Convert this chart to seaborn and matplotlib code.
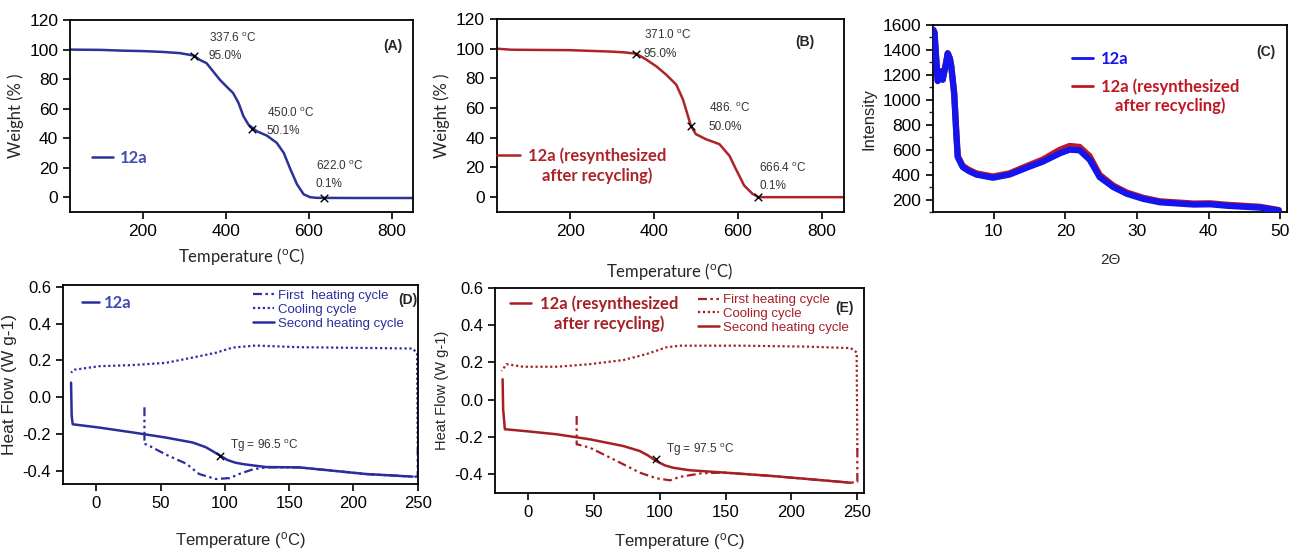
import matplotlib
matplotlib.use("Agg")
import matplotlib.pyplot as plt
import pandas as pd
import seaborn as sns

sns.set_style("ticks")
plt.rcParams['font.family'] = ['Liberation Sans', 'DejaVu Sans']
plt.rcParams['mathtext.default'] = 'regular'

BLUE_A = "#2b3399"
RED_B = "#ad2328"
BLUE_C = "#1414ee"
RED_C = "#c01822"
BLUE_D = "#2a2e9c"
RED_E = "#a51f25"

# ---- TGA 12a (A)
tga_a_temp = [25, 100, 150, 200, 250, 290, 323, 338, 354, 370, 386, 402, 418, 431, 443, 455,
              475, 499, 523, 540, 556, 572, 588, 604, 620, 700, 850]
tga_a_wt = [100, 99.8, 99.3, 99.0, 98.4, 97.6, 96.0, 93.0, 90.8, 85.2, 79.6, 75.0, 70.6,
            63.9, 54.8, 49.2, 44.7, 41.8, 36.9, 30.1, 19.0, 8.8, 2.0, 0.0, -0.4, -0.5, -0.5]
tga_a_marks_t = [323, 463, 636]
tga_a_marks_w = [96.0, 46.5, -0.8]
tga_a_temps = ["337.6 $^{o}$C", "450.0 $^{o}$C", "622.0 $^{o}$C"]
tga_a_pcts = ["95.0%", "50.1%", "0.1%"]

# ---- TGA 12a resynthesized (B)
tga_b_temp = [25, 60, 100, 200, 250, 300, 330, 358, 382, 406, 429, 453, 469, 481, 488, 500,
              524, 556, 580, 595, 615, 635, 649, 700, 850]
tga_b_wt = [100, 99.3, 99.2, 99.0, 98.5, 98.0, 97.5, 96.6, 92.6, 88.0, 82.5, 75.8, 65.8,
            54.6, 48.0, 42.4, 39.0, 35.7, 27.8, 19.0, 7.8, 2.2, 0.0, 0.0, 0.0]
tga_b_marks_t = [358, 488, 649]
tga_b_marks_w = [96.6, 48.0, 0.0]
tga_b_temps = ["371.0 $^{o}$C", "486. $^{o}$C", "666.4 $^{o}$C"]
tga_b_pcts = ["95.0%", "50.0%", "0.1%"]

# ---- XRD (C)
xrd_2theta = [1.6, 1.75, 2.2, 2.7, 2.9, 3.4, 3.6, 3.9, 4.1, 4.5, 4.8, 5.0, 5.7, 6.5, 7.6,
              9.9, 12.2, 14.6, 16.9, 19.2, 20.6, 22.0, 23.4, 24.8, 26.7, 28.6, 30.9, 33.2,
              37.9, 40.2, 42.6, 47.2, 49.8]
xrd_12a = [1560, 1540, 1150, 1225, 1160, 1305, 1372, 1330, 1265, 1050, 729, 540, 460, 430,
           400, 375, 400, 455, 505, 570, 600, 595, 520, 380, 300, 246, 205, 178, 160, 162,
           150, 135, 112]
xrd_12a_re = [1560, 1540, 1155, 1230, 1165, 1308, 1374, 1333, 1268, 1055, 735, 548, 470,
              440, 410, 385, 410, 468, 522, 598, 630, 622, 548, 398, 312, 256, 214, 186,
              168, 170, 158, 142, 116]

# ---- DSC 12a (D)
d_first_t = [37.4, 37.4, 39, 54, 70, 80, 93, 103.7, 111, 122, 132, 158, 184, 210, 246, 250, 250]
d_first_hf = [-0.054, -0.254, -0.255, -0.31, -0.36, -0.416, -0.443, -0.438, -0.416, -0.39,
              -0.38, -0.38, -0.398, -0.416, -0.43, -0.43, -0.25]
d_cool_t = [250, 249.5, 246, 210, 158, 124, 106, 93, 80, 54, 28, 2.3, -17, -19.7]
d_cool_hf = [-0.25, 0.24, 0.265, 0.268, 0.272, 0.281, 0.27, 0.242, 0.223, 0.187, 0.175,
             0.169, 0.15, 0.134]
d_second_t = [-19.7, -19.2, -18.4, 2.3, 28, 54, 75, 85, 90, 96.5, 102, 108, 114, 125, 132,
              158, 184, 210, 246]
d_second_hf = [0.08, -0.1, -0.146, -0.164, -0.19, -0.218, -0.245, -0.27, -0.29, -0.317,
               -0.34, -0.354, -0.362, -0.372, -0.378, -0.38, -0.398, -0.416, -0.43]
d_tg = (96.5, -0.317)

# ---- DSC 12a resynthesized (E)
e_first_t = [37, 37, 38, 47, 60, 72.4, 85, 97.5, 108, 115, 131, 148, 186, 224, 245, 250, 250]
e_first_hf = [-0.087, -0.239, -0.24, -0.257, -0.302, -0.346, -0.391, -0.421, -0.432, -0.414,
              -0.395, -0.39, -0.409, -0.432, -0.445, -0.44, -0.26]
e_cool_t = [250, 249.5, 245, 211.6, 161, 115, 105, 90, 72.4, 47, 22, -3.5, -16.2, -20]
e_cool_hf = [-0.27, 0.254, 0.277, 0.285, 0.29, 0.29, 0.281, 0.245, 0.213, 0.191, 0.177,
             0.177, 0.191, 0.155]
e_second_t = [-19.2, -18.8, -17.5, -3.5, 21.8, 47, 72.4, 85, 91, 97.5, 104, 110, 117, 123,
              148, 186, 224, 245]
e_second_hf = [0.11, -0.05, -0.158, -0.167, -0.185, -0.212, -0.248, -0.275, -0.298, -0.329,
               -0.352, -0.364, -0.372, -0.378, -0.39, -0.409, -0.432, -0.445]
e_tg = (97.5, -0.32)

DASHDOTDOT = (0, (4, 1.6, 1.1, 1.6, 1.1, 1.6))
LEG_FONT = {"family": "Lato", "weight": "bold", "size": 12}

fig = plt.figure(figsize=(12.9, 5.5), dpi=100)
second_lines = []  # (legend, index, text, color)


def style_axes(ax, size=12.5):
    for s in ax.spines.values():
        s.set_linewidth(1.3)
        s.set_color("black")
    ax.tick_params(direction="out", length=5, width=1.2, labelsize=size, colors="black")


def sample_legend(ax, handles, labels, colors, anchor, hl, pad, loc="center left", sp=0.5):
    leg = ax.legend(handles, labels, loc=loc, bbox_to_anchor=anchor, frameon=False,
                    handlelength=hl, handletextpad=pad, borderpad=0, borderaxespad=0,
                    labelspacing=sp, prop=LEG_FONT)
    for t, c in zip(leg.get_texts(), colors):
        t.set_color(c)
    return leg


def tga_panel(rect, temp, wt, mt, mw, temps, pcts, color, offs, panel, panel_pos, xlab_pad):
    ax = fig.add_axes(rect)
    sns.lineplot(x=temp, y=wt, ax=ax, color=color, lw=1.8, sort=False, estimator=None)
    ax.scatter(mt, mw, marker="x", color="black", s=30, lw=1.0, zorder=5)
    for t, w, l1, l2, (dx, dy1, dy2) in zip(mt, mw, temps, pcts, offs):
        ax.text(t + dx, w + dy1, l1, fontsize=8.5, color="#333333", va="center")
        ax.text(t + dx, w + dy2, l2, fontsize=8.5, color="#333333", va="center")
    ax.set_xlim(25, 852)
    ax.set_ylim(-10, 120)
    ax.set_xticks([200, 400, 600, 800])
    ax.set_yticks([0, 20, 40, 60, 80, 100, 120])
    ax.set_xlabel("Temperature ($^{o}$C)", family="Lato", fontsize=12, labelpad=xlab_pad)
    ax.set_ylabel("Weight (% )", family="Lato", fontsize=12)
    ax.text(panel_pos[0], panel_pos[1], panel, transform=ax.transAxes, fontsize=10,
            fontweight="bold", ha="center", va="center")
    style_axes(ax)
    return ax


axA = tga_panel([0.0543, 0.6145, 0.266, 0.349], tga_a_temp, tga_a_wt, tga_a_marks_t,
                tga_a_marks_w, tga_a_temps, tga_a_pcts, BLUE_A,
                [(36, 12, 0), (36, 10.6, -1.8), (-19, 22, 10)], "(A)", (0.942, 0.864), 5)
hA, = axA.plot([], [], color=BLUE_A, lw=1.8)
sample_legend(axA, [hA], ["12a"], ["#3f4fae"], (0.064, 0.283), 1.26, 0.4)

axB = tga_panel([0.385, 0.6145, 0.269, 0.351], tga_b_temp, tga_b_wt, tga_b_marks_t,
                tga_b_marks_w, tga_b_temps, tga_b_pcts, RED_B,
                [(17, 12.7, 0), (43, 12.3, -0.7), (2, 19.6, 7.8)], "(B)", (0.888, 0.882), 16)
hB, = axB.plot([], [], color=RED_B, lw=1.8)
legB = sample_legend(axB, [hB], ["12a (resynthesized"], [RED_B], (0.0, 0.29), 1.4, 0.5)
second_lines.append((legB, 0, "after recycling)", RED_B))

# ---- C
axC = fig.add_axes([0.723, 0.6145, 0.275, 0.340])
xrd = pd.DataFrame({"two_theta": xrd_2theta, "a": xrd_12a, "b": xrd_12a_re})
sns.lineplot(data=xrd, x="two_theta", y="b", ax=axC, color=RED_C, lw=4.5, zorder=2)
sns.lineplot(data=xrd, x="two_theta", y="a", ax=axC, color=BLUE_C, lw=4.5, zorder=3)
axC.set_xlim(1.5, 51)
axC.set_ylim(100, 1600)
axC.set_xticks([10, 20, 30, 40, 50])
axC.set_yticks([200, 400, 600, 800, 1000, 1200, 1400, 1600])
axC.set_yticks(range(100, 1600, 100), minor=True)
axC.set_xlabel("2\u0398", fontsize=11, labelpad=10)
axC.set_ylabel("Intensity", fontsize=12)
axC.text(0.94, 0.855, "(C)", transform=axC.transAxes, fontsize=10, fontweight="bold",
         ha="center", va="center")
style_axes(axC)
axC.tick_params(axis="y", which="minor", length=3, width=1)
hC1, = axC.plot([], [], color=BLUE_C, lw=2)
hC2, = axC.plot([], [], color=RED_C, lw=2)
legC = sample_legend(axC, [hC1, hC2], ["12a", "12a (resynthesized"], [BLUE_C, RED_C],
                     (0.392, 0.86), 1.3, 0.45, loc="upper left", sp=0.65)
second_lines.append((legC, 1, "after recycling)", RED_C))


def dsc_panel(rect, first, cool, second, tg, tg_text, color, xlim, ylim, panel, panel_pos,
              ylab_size, xlab_pad, first_label, leg2_anchor):
    ax = fig.add_axes(rect)
    sns.lineplot(x=first[0], y=first[1], ax=ax, color=color, lw=1.6, sort=False,
                 estimator=None, linestyle=DASHDOTDOT)
    sns.lineplot(x=cool[0], y=cool[1], ax=ax, color=color, lw=1.6, sort=False,
                 estimator=None, linestyle=(0, (1, 1.2)))
    sns.lineplot(x=second[0], y=second[1], ax=ax, color=color, lw=1.8, sort=False,
                 estimator=None)
    ax.scatter([tg[0]], [tg[1]], marker="x", color="black", s=28, lw=1.0, zorder=5)
    ax.text(tg[0] + 7.5, tg[1] + 0.054, tg_text, fontsize=8.5, color="#333333", va="center")
    ax.set_xlim(*xlim)
    ax.set_ylim(*ylim)
    ax.set_xticks([0, 50, 100, 150, 200, 250])
    ax.set_yticks([-0.4, -0.2, 0.0, 0.2, 0.4, 0.6])
    ax.set_yticklabels(["-0.4", "-0.2", "0.0", "0.2", "0.4", "0.6"])
    ax.set_xlabel("Temperature ($^{o}$C)", fontsize=12, labelpad=xlab_pad)
    ax.set_ylabel("Heat Flow (W g-1)", fontsize=ylab_size)
    ax.text(panel_pos[0], panel_pos[1], panel, transform=ax.transAxes, fontsize=10,
            fontweight="bold", ha="center", va="center")
    style_axes(ax, 12)
    lines = ax.get_lines()[:3]
    leg2 = ax.legend(lines, [first_label, "Cooling cycle", "Second heating cycle"],
                     loc="upper left", bbox_to_anchor=leg2_anchor, frameon=False,
                     borderpad=0, borderaxespad=0, handlelength=1.6, handletextpad=0.3,
                     labelspacing=0.12, fontsize=9.5)
    for t in leg2.get_texts():
        t.set_color(color)
    ax.add_artist(leg2)
    return ax


axD = dsc_panel([0.0488, 0.12, 0.275, 0.362], (d_first_t, d_first_hf), (d_cool_t, d_cool_hf),
                (d_second_t, d_second_hf), d_tg, "Tg = 96.5 $^{o}$C", BLUE_D, (-26, 250),
                (-0.47, 0.61), "(D)", (0.972, 0.925), 12.5, 14, "First  heating cycle",
                (0.535, 0.975))
hD, = axD.plot([], [], color=BLUE_D, lw=1.8)
sample_legend(axD, [hD], ["12a"], ["#3f4fae"], (0.054, 0.91), 1.0, 0.3)

axE = dsc_panel([0.3837, 0.1036, 0.286, 0.373], (e_first_t, e_first_hf), (e_cool_t, e_cool_hf),
                (e_second_t, e_second_hf), e_tg, "Tg = 97.5 $^{o}$C", RED_E, (-25, 255),
                (-0.5, 0.6), "(E)", (0.948, 0.902), 10.5, 8, "First heating cycle",
                (0.55, 0.97))
hE, = axE.plot([], [], color=RED_E, lw=1.8)
legE = sample_legend(axE, [hE], ["12a (resynthesized"], [RED_E], (0.04, 0.922), 1.3, 0.5)
second_lines.append((legE, 0, "after recycling)", RED_E))

# second line of the two-line legend labels, centred under the first line
fig.canvas.draw()
for leg, idx, txt, col in second_lines:
    bb = leg.get_texts()[idx].get_window_extent()
    fx, fy = fig.transFigure.inverted().transform(((bb.x0 + bb.x1) / 2, bb.y0 - 3))
    fig.text(fx, fy, txt, ha="center", va="top", color=col, **LEG_FONT)

fig.savefig("out.png", dpi=100)
